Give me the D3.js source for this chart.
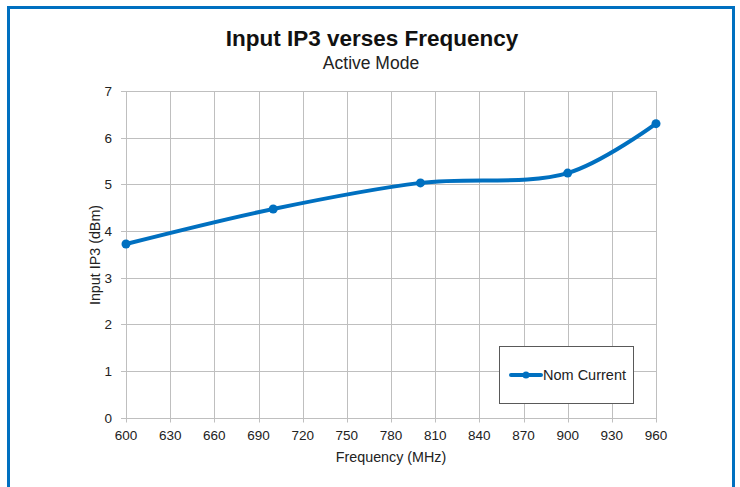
<!DOCTYPE html>
<html><head><meta charset="utf-8">
<script src="https://cdn.jsdelivr.net/npm/d3@7"></script>
<style>body{margin:0;background:#fff;font-family:"Liberation Sans",Arial,sans-serif;}</style>
</head><body>
<svg id="c" width="740" height="487"></svg>
<script>
const freqs = [600, 700, 800, 900, 960];
const nomCurrent = [3.72, 4.47, 5.03, 5.24, 6.30];
const xTicks = [600,630,660,690,720,750,780,810,840,870,900,930,960];
const yTicks = [0,1,2,3,4,5,6,7];
const seriesName = "Nom Current";
const titleText = "Input IP3 verses Frequency";
const subtitleText = "Active Mode";
const xLabel = "Frequency (MHz)";
const yLabel = "Input IP3 (dBm)";

const svg = d3.select("#c");
const blue = "#0070C0";
// frame
svg.append("rect").attr("x",8.5).attr("y",7.5).attr("width",725).attr("height",490)
  .attr("fill","none").attr("stroke",blue).attr("stroke-width",3);

const x = d3.scaleLinear().domain([600,960]).range([126,656]);
const y = d3.scaleLinear().domain([0,7]).range([417.5,91]);

const grid = svg.append("g");
grid.selectAll(".v").data(xTicks).join("line")
  .attr("x1",d=>Math.round(x(d))+0.5).attr("x2",d=>Math.round(x(d))+0.5)
  .attr("y1",y(7)).attr("y2",y(0)+5).attr("stroke","#bfbfbf").attr("stroke-width",1);
grid.selectAll(".h").data(yTicks).join("line")
  .attr("y1",d=>Math.round(y(d))+0.5).attr("y2",d=>Math.round(y(d))+0.5)
  .attr("x1",x(600)-5).attr("x2",x(960)).attr("stroke","#bfbfbf").attr("stroke-width",1);

const lbl = svg.append("g").attr("font-size",13.5).attr("fill","#222");
lbl.selectAll(".yl").data(yTicks).join("text")
  .attr("x",112).attr("y",d=>y(d)+5).attr("text-anchor","end").text(d=>d);
lbl.selectAll(".xl").data(xTicks).join("text")
  .attr("x",d=>x(d)).attr("y",440).attr("text-anchor","middle").text(d=>d);

svg.append("text").attr("x",391).attr("y",462).attr("text-anchor","middle")
  .attr("font-size",14.3).attr("fill","#222").text(xLabel);
svg.append("text").attr("transform","translate(100,255) rotate(-90)").attr("text-anchor","middle")
  .attr("font-size",14.3).attr("fill","#222").text(yLabel);

svg.append("text").attr("x",372).attr("y",46).attr("text-anchor","middle")
  .attr("font-size",22.5).attr("font-weight","bold").attr("fill","#111").text(titleText);
svg.append("text").attr("x",371).attr("y",69).attr("text-anchor","middle")
  .attr("font-size",17.5).attr("fill","#222").text(subtitleText);

const data = freqs.map((f,i)=>({f, v:nomCurrent[i]}));
const line = d3.line().x(d=>x(d.f)).y(d=>y(d.v)).curve(d3.curveCatmullRom.alpha(0.5));
svg.append("path").datum(data).attr("d",line).attr("fill","none")
  .attr("stroke",blue).attr("stroke-width",4).attr("stroke-linecap","round");
svg.selectAll(".pt").data(data).join("circle")
  .attr("cx",d=>x(d.f)).attr("cy",d=>y(d.v)).attr("r",4.5).attr("fill",blue);

// legend
const lg = svg.append("g");
lg.append("rect").attr("x",499.5).attr("y",346.5).attr("width",134).attr("height",57)
  .attr("fill","#fff").attr("stroke","#595959").attr("stroke-width",1);
lg.append("line").attr("x1",511).attr("x2",541).attr("y1",375).attr("y2",375)
  .attr("stroke",blue).attr("stroke-width",4).attr("stroke-linecap","round");
lg.append("circle").attr("cx",526).attr("cy",375).attr("r",3.5).attr("fill",blue);
lg.append("text").attr("x",543).attr("y",380).attr("font-size",14.5).attr("fill","#222").text(seriesName);
</script>
</body></html>
